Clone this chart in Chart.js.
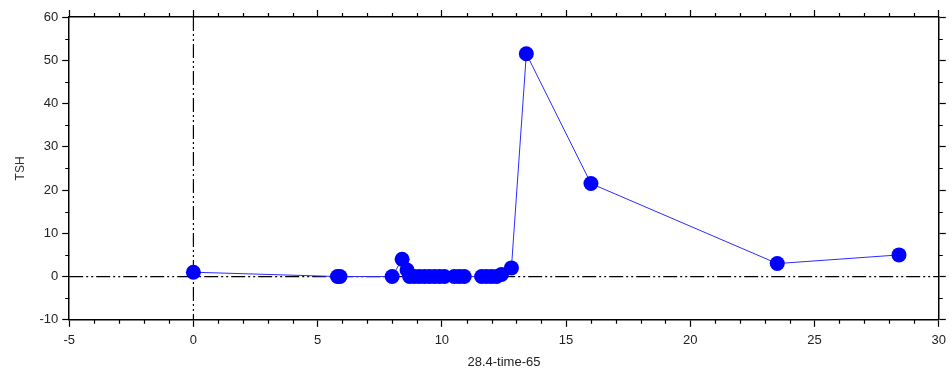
<!DOCTYPE html>
<html>
<head>
<meta charset="utf-8">
<script src="https://cdn.jsdelivr.net/npm/chart.js@4"></script>
<style>
  html, body { margin: 0; padding: 0; background: #fff; }
  #wrap { width: 952px; height: 375px; }
</style>
</head>
<body>
<div id="wrap"><canvas id="tshChart"></canvas></div>
<script>
// time since start vs TSH
var timeValues = [0, 5.8, 5.9, 8.0, 8.4, 8.6, 8.7, 8.9, 9.1, 9.3, 9.5, 9.7, 9.9, 10.1,
                  10.5, 10.7, 10.9, 11.6, 11.8, 12.0, 12.2, 12.4, 12.8, 13.4, 16.0, 23.5, 28.4];
var tshValues = [1, 0, 0, 0, 4, 1.5, 0, 0, 0, 0, 0, 0, 0, 0,
                 0, 0, 0, 0, 0, 0, 0, 0.5, 2, 51.5, 21.5, 3, 5];
var xTitle = "28.4-time-65";
var yTitle = "TSH";

var points = timeValues.map(function (t, i) { return {x: t, y: tshValues[i]}; });

// dash-dot-dot lines through zero, and minor ticks on all four sides
var zeroLines = {
    id: "zeroLines",
    beforeDatasetsDraw: function (chart) {
        var ctx = chart.ctx, a = chart.chartArea;
        var px = chart.scales.x.getPixelForValue(0);
        var py = chart.scales.y.getPixelForValue(0);
        ctx.save();
        ctx.strokeStyle = "#000";
        ctx.lineWidth = 1.2;
        ctx.setLineDash([14, 3, 2, 3, 2, 3]);
        ctx.beginPath();
        ctx.moveTo(a.left, py); ctx.lineTo(a.right, py);
        ctx.moveTo(px, a.top); ctx.lineTo(px, a.bottom);
        ctx.stroke();
        ctx.restore();
    },
    afterDraw: function (chart) {
        var ctx = chart.ctx, a = chart.chartArea;
        var sx = chart.scales.x, sy = chart.scales.y;
        ctx.save();
        ctx.strokeStyle = "#000";
        ctx.lineWidth = 1.2;
        ctx.beginPath();
        for (var v = -4; v < 30; v++) {
            if (v % 5 === 0) continue;
            var x = Math.round(sx.getPixelForValue(v)) + 0.5;
            ctx.moveTo(x, a.bottom); ctx.lineTo(x, a.bottom + 4);
            ctx.moveTo(x, a.top); ctx.lineTo(x, a.top - 4);
        }
        for (var w = -5; w < 60; w += 10) {
            var y = Math.round(sy.getPixelForValue(w)) + 0.5;
            ctx.moveTo(a.left, y); ctx.lineTo(a.left - 4, y);
            ctx.moveTo(a.right, y); ctx.lineTo(a.right + 4, y);
        }
        ctx.stroke();
        ctx.restore();
    }
};

var tickFont = {family: "'Liberation Sans', Arial, sans-serif", size: 13};

new Chart("tshChart", {
    type: "line",
    data: {
        datasets: [{
            data: points,
            borderColor: "#2b2bff",
            borderWidth: 1,
            backgroundColor: "#0000ff",
            pointBackgroundColor: "#0000ff",
            pointBorderWidth: 0,
            pointRadius: 7.5,
            tension: 0
        }]
    },
    options: {
        responsive: true,
        maintainAspectRatio: false,
        animation: false,
        layout: {padding: {top: 10, right: 0, left: 9, bottom: 1}},
        plugins: {legend: {display: false}, tooltip: {enabled: false}},
        scales: {
            x: {
                type: "linear", position: "bottom", min: -5, max: 30,
                ticks: {stepSize: 5, color: "#222", font: tickFont, padding: 6},
                grid: {drawOnChartArea: false, tickLength: 7, tickColor: "#000", tickWidth: 1.2},
                border: {color: "#000", width: 1.5},
                title: {display: true, text: xTitle, color: "#222", font: tickFont, padding: {top: 0}}
            },
            x2: {
                type: "linear", position: "top", min: -5, max: 30,
                ticks: {stepSize: 5, display: false},
                grid: {drawOnChartArea: false, tickLength: 7, tickColor: "#000", tickWidth: 1.2},
                border: {color: "#000", width: 1.5}
            },
            y: {
                type: "linear", position: "left", min: -10, max: 60,
                ticks: {stepSize: 10, color: "#222", font: tickFont, padding: 4},
                grid: {drawOnChartArea: false, tickLength: 7, tickColor: "#000", tickWidth: 1.2},
                border: {color: "#000", width: 1.5},
                title: {display: true, text: yTitle, color: "#333", font: {family: "'Liberation Sans', Arial, sans-serif", size: 12}, padding: {bottom: 8}}
            },
            y2: {
                type: "linear", position: "right", min: -10, max: 60,
                ticks: {stepSize: 10, display: false},
                grid: {drawOnChartArea: false, tickLength: 7, tickColor: "#000", tickWidth: 1.2},
                border: {color: "#000", width: 1.5}
            }
        }
    },
    plugins: [zeroLines]
});
</script>
</body>
</html>
